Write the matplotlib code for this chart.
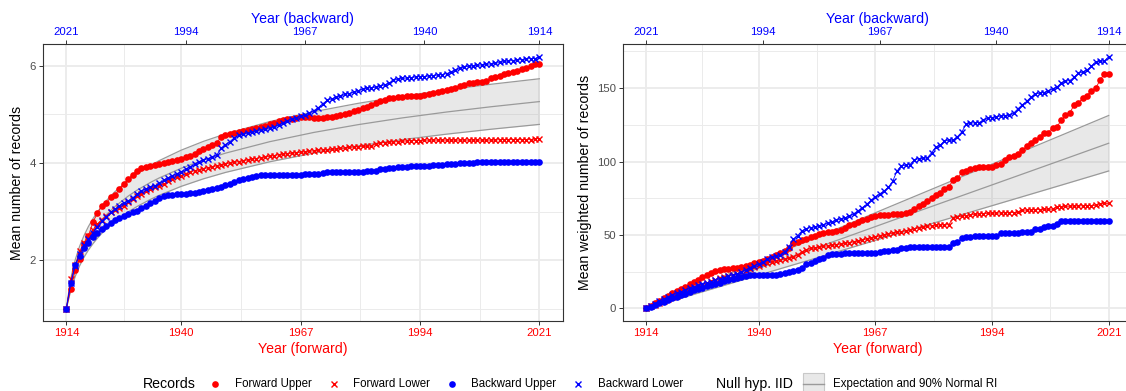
import numpy as np
import matplotlib
matplotlib.use("Agg")
import matplotlib.pyplot as plt
from matplotlib.lines import Line2D
from matplotlib.patches import Rectangle

plt.rcParams['font.family'] = ['Liberation Sans', 'DejaVu Sans']

years = np.arange(1914, 2022)

# ---- Mean number of records (one value per year, 1914..2021) ----
fwd_upper = [
    1.00, 1.40, 1.79, 2.03, 2.33, 2.50, 2.78, 2.96, 3.11, 3.17,
    3.29, 3.33, 3.47, 3.57, 3.67, 3.76, 3.84, 3.89, 3.91, 3.93,
    3.96, 3.98, 4.00, 4.02, 4.05, 4.07, 4.09, 4.12, 4.15, 4.19,
    4.24, 4.28, 4.32, 4.37, 4.42, 4.53, 4.57, 4.60, 4.62, 4.64,
    4.66, 4.68, 4.69, 4.71, 4.74, 4.77, 4.80, 4.83, 4.86, 4.88,
    4.90, 4.91, 4.93, 4.94, 4.95, 4.94, 4.93, 4.93, 4.93, 4.94,
    4.95, 4.97, 4.99, 5.01, 5.03, 5.06, 5.09, 5.13, 5.16, 5.20,
    5.23, 5.27, 5.30, 5.33, 5.34, 5.35, 5.36, 5.37, 5.37, 5.38,
    5.38, 5.40, 5.42, 5.44, 5.46, 5.48, 5.50, 5.52, 5.55, 5.58,
    5.61, 5.64, 5.65, 5.66, 5.67, 5.69, 5.74, 5.78, 5.80, 5.83,
    5.85, 5.87, 5.90, 5.93, 5.96, 6.00, 6.03, 6.04]
fwd_lower = [
    1.00, 1.60, 1.90, 2.18, 2.36, 2.50, 2.62, 2.74, 2.83, 2.91,
    2.98, 3.04, 3.08, 3.12, 3.19, 3.25, 3.31, 3.36, 3.42, 3.47,
    3.50, 3.53, 3.56, 3.62, 3.67, 3.71, 3.74, 3.78, 3.82, 3.84,
    3.86, 3.88, 3.90, 3.92, 3.94, 3.96, 3.98, 4.00, 4.01, 4.03,
    4.05, 4.06, 4.08, 4.09, 4.11, 4.12, 4.14, 4.15, 4.17, 4.18,
    4.19, 4.20, 4.21, 4.22, 4.23, 4.24, 4.25, 4.26, 4.27, 4.27,
    4.28, 4.29, 4.30, 4.31, 4.32, 4.33, 4.33, 4.34, 4.34, 4.35,
    4.40, 4.41, 4.42, 4.43, 4.43, 4.44, 4.45, 4.45, 4.46, 4.46,
    4.46, 4.47, 4.47, 4.47, 4.47, 4.47, 4.47, 4.47, 4.47, 4.47,
    4.47, 4.47, 4.47, 4.47, 4.47, 4.47, 4.47, 4.47, 4.48, 4.48,
    4.48, 4.48, 4.48, 4.48, 4.48, 4.48, 4.50, 4.50]
bwd_upper = [
    1.00, 1.52, 1.90, 2.09, 2.24, 2.36, 2.47, 2.56, 2.64, 2.71,
    2.77, 2.82, 2.86, 2.90, 2.94, 2.98, 3.02, 3.07, 3.12, 3.17,
    3.22, 3.27, 3.31, 3.33, 3.35, 3.36, 3.37, 3.37, 3.38, 3.39,
    3.40, 3.42, 3.44, 3.46, 3.48, 3.51, 3.54, 3.57, 3.60, 3.64,
    3.67, 3.70, 3.72, 3.74, 3.75, 3.76, 3.76, 3.76, 3.76, 3.76,
    3.76, 3.76, 3.76, 3.76, 3.77, 3.77, 3.78, 3.78, 3.79, 3.81,
    3.81, 3.81, 3.81, 3.81, 3.82, 3.82, 3.82, 3.82, 3.83, 3.83,
    3.84, 3.87, 3.88, 3.89, 3.90, 3.91, 3.92, 3.92, 3.93, 3.93,
    3.93, 3.94, 3.94, 3.95, 3.96, 3.96, 3.97, 3.97, 3.98, 3.99,
    3.99, 4.00, 4.00, 4.01, 4.02, 4.02, 4.02, 4.03, 4.03, 4.03,
    4.03, 4.03, 4.03, 4.03, 4.03, 4.03, 4.03, 4.03]
bwd_lower = [
    1.00, 1.53, 1.88, 2.13, 2.30, 2.43, 2.56, 2.69, 2.80, 2.89,
    2.98, 3.05, 3.12, 3.18, 3.22, 3.28, 3.36, 3.42, 3.47, 3.50,
    3.53, 3.58, 3.64, 3.69, 3.74, 3.78, 3.82, 3.87, 3.92, 3.97,
    4.02, 4.06, 4.09, 4.12, 4.16, 4.30, 4.38, 4.44, 4.52, 4.57,
    4.59, 4.61, 4.63, 4.65, 4.67, 4.69, 4.71, 4.74, 4.78, 4.83,
    4.87, 4.91, 4.93, 4.96, 4.99, 5.03, 5.08, 5.14, 5.22, 5.29,
    5.32, 5.35, 5.38, 5.41, 5.43, 5.46, 5.49, 5.52, 5.54, 5.55,
    5.56, 5.58, 5.61, 5.64, 5.70, 5.73, 5.74, 5.75, 5.76, 5.77,
    5.78, 5.78, 5.79, 5.80, 5.81, 5.82, 5.84, 5.87, 5.91, 5.95,
    5.98, 5.99, 6.00, 6.01, 6.02, 6.03, 6.04, 6.05, 6.07, 6.09,
    6.10, 6.11, 6.12, 6.13, 6.14, 6.15, 6.15, 6.19]

# ---- Mean weighted number of records ----
w_fwd_upper = [
    0.0, 1.5, 3.4, 5.0, 6.8, 8.5, 10.2, 11.8, 13.2, 14.8,
    16.5, 18.0, 19.6, 21.2, 22.7, 24.2, 25.5, 26.1, 26.6, 27.0,
    27.4, 27.7, 28.2, 29.0, 29.8, 30.6, 31.4, 32.5, 33.7, 35.0,
    36.4, 37.8, 39.2, 40.8, 44.5, 45.5, 46.6, 47.5, 48.6, 49.6,
    50.6, 51.2, 51.8, 52.3, 52.8, 53.3, 55.0, 56.5, 57.5, 58.8,
    60.0, 61.0, 62.0, 62.8, 63.4, 63.6, 63.8, 64.0, 64.1, 64.5,
    65.0, 65.7, 67.4, 69.5, 71.4, 73.0, 75.0, 77.0, 78.8, 81.6,
    82.5, 87.7, 88.5, 92.9, 93.8, 94.9, 95.9, 96.0, 96.2, 96.3,
    96.5, 97.5, 98.5, 101.0, 103.1, 103.5, 105.5, 107.6, 110.5, 112.6,
    114.4, 117.0, 119.4, 119.8, 123.0, 123.6, 128.0, 131.4, 133.0, 138.7,
    140.0, 143.2, 145.0, 148.4, 150.0, 155.5, 159.8, 159.8]
w_fwd_lower = [
    0.0, 1.3, 2.6, 3.8, 5.0, 6.2, 7.5, 8.7, 10.0, 11.3,
    12.6, 13.8, 15.0, 16.2, 17.4, 18.4, 19.4, 20.6, 21.6, 22.3,
    23.0, 23.6, 24.5, 25.8, 27.0, 28.0, 29.0, 30.0, 30.8, 31.6,
    32.4, 33.0, 33.6, 34.1, 35.0, 36.5, 38.5, 40.0, 40.8, 41.3,
    41.8, 42.2, 42.6, 43.0, 43.4, 43.8, 44.3, 44.8, 45.3, 45.9,
    46.6, 47.3, 48.0, 48.7, 49.3, 50.0, 50.6, 51.2, 51.8, 52.3,
    52.9, 53.5, 54.2, 54.8, 55.3, 55.8, 56.3, 56.7, 56.8, 56.9,
    57.0, 61.7, 62.3, 62.8, 63.2, 63.6, 64.0, 64.3, 64.6, 64.7,
    64.8, 64.9, 65.0, 65.1, 65.2, 65.3, 65.4, 66.8, 67.0, 67.1,
    67.2, 67.3, 67.4, 67.5, 67.6, 69.3, 69.4, 69.5, 69.6, 69.7,
    69.8, 69.9, 70.0, 70.0, 70.1, 71.4, 71.5, 71.5]
w_bwd_upper = [
    0.0, 1.2, 2.4, 3.5, 4.6, 5.7, 7.0, 8.0, 9.0, 10.1,
    11.2, 12.2, 13.2, 14.2, 15.2, 16.0, 16.8, 17.6, 18.6, 19.5,
    20.3, 21.0, 21.7, 22.2, 22.6, 22.7, 22.7, 22.7, 22.7, 22.7,
    23.0, 23.5, 24.2, 25.0, 25.6, 26.2, 27.2, 30.0, 31.0, 32.5,
    33.3, 34.5, 36.3, 36.8, 37.2, 37.3, 37.4, 37.4, 37.4, 37.4,
    37.4, 37.4, 37.4, 37.5, 38.5, 39.2, 39.4, 39.5, 39.6, 41.3,
    41.4, 41.5, 41.5, 41.5, 41.5, 41.5, 41.5, 41.5, 41.5, 41.5,
    41.6, 44.2, 45.1, 47.8, 48.3, 48.8, 49.3, 49.4, 49.4, 49.4,
    49.5, 49.6, 51.4, 51.5, 51.5, 51.5, 51.6, 51.7, 51.7, 51.8,
    53.8, 54.2, 55.5, 55.8, 56.2, 57.8, 59.4, 59.5, 59.5, 59.5,
    59.5, 59.5, 59.5, 59.5, 59.5, 59.5, 59.5, 59.5]
w_bwd_lower = [
    0.0, 1.6, 3.2, 4.8, 6.3, 7.8, 9.3, 10.3, 11.3, 12.4,
    13.6, 14.6, 15.6, 16.6, 17.5, 18.3, 19.0, 19.8, 20.8, 21.8,
    22.6, 23.4, 24.8, 26.2, 27.8, 29.2, 30.2, 31.6, 33.4, 35.0,
    35.8, 36.6, 38.5, 42.0, 47.0, 49.5, 52.8, 54.3, 55.0, 55.6,
    56.2, 57.0, 58.0, 59.0, 60.0, 60.8, 61.8, 62.8, 64.5, 66.5,
    68.7, 71.0, 73.5, 76.0, 78.0, 80.0, 82.5, 86.5, 93.5, 97.2,
    97.4, 98.0, 101.0, 102.0, 102.2, 102.5, 106.0, 110.0, 111.0, 114.2,
    114.4, 114.6, 117.0, 120.1, 125.5, 126.2, 126.4, 126.6, 128.0, 129.6,
    130.0, 130.4, 131.0, 131.2, 131.4, 133.0, 136.0, 138.7, 141.0, 143.9,
    146.0, 146.6, 147.0, 148.4, 149.5, 150.7, 153.5, 154.8, 155.2, 157.5,
    160.2, 161.0, 162.5, 165.0, 168.1, 168.3, 168.5, 171.5]

# ---- Null hypothesis (IID): expectation and 90% normal range ----
null_years = [1914, 1915, 1916, 1917, 1918, 1919, 1920, 1921, 1922, 1923,
              1925, 1928, 1930, 1933, 1935, 1940, 1945, 1950, 1960, 1970,
              1980, 1990, 2000, 2010, 2021]
null_mean = [1.000, 1.500, 1.833, 2.083, 2.283, 2.450, 2.593, 2.718, 2.829, 2.929,
             3.103, 3.318, 3.440, 3.598, 3.691, 3.892, 4.059, 4.202, 4.438, 4.629,
             4.789, 4.928, 5.049, 5.157, 5.264]
null_low = [1.000, 1.377, 1.663, 1.883, 2.060, 2.209, 2.336, 2.449, 2.549, 2.639,
            2.797, 2.993, 3.104, 3.249, 3.334, 3.519, 3.673, 3.805, 4.024, 4.202,
            4.351, 4.480, 4.593, 4.694, 4.794]
null_high = [1.000, 1.623, 2.003, 2.283, 2.506, 2.692, 2.849, 2.987, 3.109, 3.219,
             3.409, 3.643, 3.775, 3.947, 4.048, 4.264, 4.444, 4.598, 4.852, 5.056,
             5.228, 5.375, 5.505, 5.620, 5.734]

w_null_years = [1914, 1915, 1920, 1930, 1940, 1950, 1960, 1970, 1980, 1990, 2000, 2010, 2021]
w_null_mean = [0.0, 1.05, 6.3, 16.8, 27.3, 37.8, 48.3, 58.9, 69.4, 79.9, 90.4, 100.9, 112.5]
w_null_low = [0.0, 0.80, 5.16, 13.9, 22.64, 31.38, 40.13, 48.97, 57.71, 66.45, 75.19, 83.93, 93.6]
w_null_high = [0.0, 1.30, 7.44, 19.7, 31.96, 44.22, 56.47, 68.83, 81.09, 93.35, 105.61, 117.87, 131.4]

fwd_ticks = [1914, 1940, 1967, 1994, 2021]
bwd_ticks = [2021, 1994, 1967, 1940, 1914]
x_minor = [1927, 1953.5, 1980.5, 2007.5]

RED, BLUE = '#FF0000', '#0000FF'
GRID = '#EBEBEB'
DARK = '#333333'
TICKTXT = '#4D4D4D'

W, H = 1126, 391
fig = plt.figure(figsize=(W / 100, H / 100), dpi=100)


def px_box(x0, x1, ytop, ybot):
    return [x0 / W, 1 - ybot / H, (x1 - x0) / W, (ybot - ytop) / H]


def draw_panel(rect, series, null, ylim, yticks, yminor, ylabel, ylabelpad):
    ax = fig.add_axes(rect)
    ax.set_xlim(1914 - 5.35, 2021 + 5.35)
    ax.set_ylim(*ylim)
    ax.set_xticks(fwd_ticks)
    ax.set_xticks(x_minor, minor=True)
    ax.set_yticks(yticks)
    ax.set_yticks(yminor, minor=True)
    ax.grid(True, which='major', color=GRID, lw=1.3, zorder=0)
    ax.grid(True, which='minor', color=GRID, lw=0.7, zorder=0)
    ax.set_axisbelow(True)
    for s in ax.spines.values():
        s.set_color(DARK)
        s.set_linewidth(0.8)
    ax.tick_params(axis='both', which='major', length=2.75, width=0.7, color=DARK,
                   labelsize=8.2, pad=2.2)
    ax.tick_params(axis='both', which='minor', length=0)
    ax.tick_params(axis='y', labelcolor=TICKTXT)
    ax.tick_params(axis='x', labelcolor=RED)
    ax.set_xlabel('Year (forward)', color=RED, fontsize=10.2, labelpad=3)
    ax.set_ylabel(ylabel, color='black', fontsize=10.2, labelpad=ylabelpad)

    ny, nm, nl, nh = null
    ax.fill_between(ny, nl, nh, color='#999999', alpha=0.22, lw=0, zorder=1)
    for arr in (nl, nm, nh):
        ax.plot(ny, arr, color='#9A9A9A', lw=0.9, zorder=1.5)

    fu, fl, bu, bl = series
    ax.plot(years, fl, color=RED, lw=0.6, marker='x', ms=4.2, mew=1.0, zorder=3)
    ax.plot(years, fu, color=RED, lw=0.6, marker='o', ms=4.8, mew=0, zorder=3)
    ax.plot(years, bu, color=BLUE, lw=0.6, marker='o', ms=4.8, mew=0, zorder=3)
    ax.plot(years, bl, color=BLUE, lw=0.6, marker='x', ms=4.2, mew=1.0, zorder=3)

    top = ax.twiny()
    top.set_xlim(ax.get_xlim())
    top.set_xticks([years[0] + years[-1] - b for b in bwd_ticks])
    top.set_xticklabels([str(b) for b in bwd_ticks])
    top.tick_params(axis='x', length=2.75, width=0.7, color=DARK, labelsize=8.2,
                    pad=2.2, labelcolor=BLUE)
    top.set_xlabel('Year (backward)', color=BLUE, fontsize=10.2, labelpad=3)
    for s in top.spines.values():
        s.set_visible(False)
    return ax


draw_panel(px_box(42.7, 563.0, 44, 321),
           (fwd_upper, fwd_lower, bwd_upper, bwd_lower),
           (null_years, null_mean, null_low, null_high),
           (0.745, 6.45), [2, 4, 6], [1, 3, 5],
           'Mean number of records', 4)

draw_panel(px_box(623.2, 1131.8, 44, 321),
           (w_fwd_upper, w_fwd_lower, w_bwd_upper, w_bwd_lower),
           (w_null_years, w_null_mean, w_null_low, w_null_high),
           (-8.6, 180.1), [0, 50, 100, 150], [25, 75, 125, 175],
           'Mean weighted number of records', 4)

# ---- legend row along the bottom ----
ly = 1 - 384 / H


def fx(px):
    return px / W


fig.text(fx(143), ly, 'Records', fontsize=10.2, va='center', ha='left')
legend_items = [
    (215, 'o', RED, 'Forward Upper', 235),
    (334, 'x', RED, 'Forward Lower', 353),
    (452, 'o', BLUE, 'Backward Upper', 471),
    (578, 'x', BLUE, 'Backward Lower', 598),
]
for mx, mk, col, lab, tx in legend_items:
    if mk == 'o':
        fig.add_artist(Line2D([fx(mx)], [ly], marker='o', ms=4.8, mew=0, color=col,
                              transform=fig.transFigure, linestyle='none'))
    else:
        fig.add_artist(Line2D([fx(mx)], [ly], marker='x', ms=4.2, mew=1.0, color=col,
                              transform=fig.transFigure, linestyle='none'))
    fig.text(fx(tx), ly, lab, fontsize=8.3, va='center', ha='left')

fig.text(fx(716), ly, 'Null hyp. IID', fontsize=10.2, va='center', ha='left')
fig.add_artist(Rectangle((fx(803), 1 - 395 / H), fx(21), 22 / H, transform=fig.transFigure,
                         facecolor='#E8E8E8', edgecolor='#C8C8C8', lw=0.8))
fig.add_artist(Line2D([fx(803), fx(824)], [ly, ly], color='#9A9A9A', lw=1.0,
                      transform=fig.transFigure))
fig.text(fx(833), ly, 'Expectation and 90% Normal RI', fontsize=8.3, va='center', ha='left')

for arrs in (fwd_upper, fwd_lower, bwd_upper, bwd_lower,
             w_fwd_upper, w_fwd_lower, w_bwd_upper, w_bwd_lower):
    assert len(arrs) == len(years)

fig.savefig('out.png', dpi=100)
